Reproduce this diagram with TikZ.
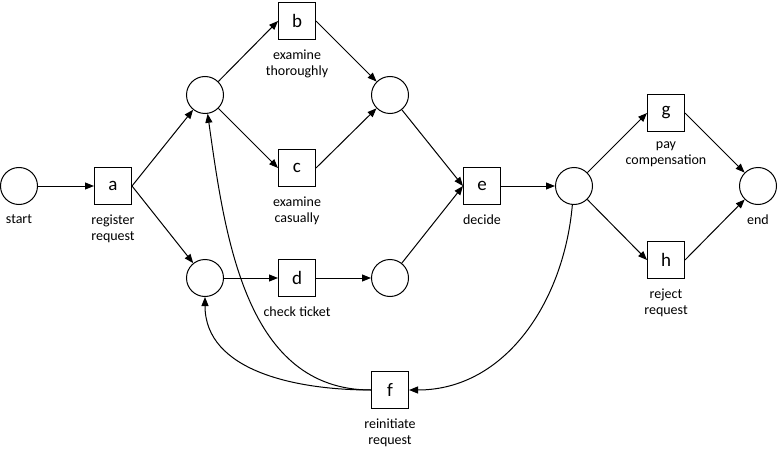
\documentclass[tikz,border=0pt]{standalone}
\usepackage{fontspec}
\setmainfont{Carlito}
\usetikzlibrary{arrows.meta}
\tikzset{
  place/.style={draw,circle,minimum size=37pt,inner sep=0pt,line width=1pt},
  trans/.style={draw,rectangle,minimum size=37pt,inner sep=0pt,line width=1pt,font=\fontsize{19}{21}\selectfont},
  lab/.style={label distance=9.5pt,inner sep=0pt,align=center,font=\fontsize{14}{16}\selectfont},
  arc/.style={-{Triangle[length=9pt,width=7pt]},line width=1pt}
}

\begin{document}
\begin{tikzpicture}[x=1pt,y=1pt]
    \useasboundingbox (0,0) rectangle (779,448);

    % places
    \node[place,label={[lab]below:start}] (start) at (19,262) {};
    \node[place] (p1) at (205,353) {};
    \node[place] (p2) at (205,170) {};
    \node[place] (p3) at (390,353) {};
    \node[place] (p4) at (390,170) {};
    \node[place] (p5) at (574,262) {};
    \node[place,label={[lab]below:end}] (end) at (758,262) {};

    % transitions
    \node[trans,label={[lab]below:register\\request}] (a) at (113,262) {a};
    \node[trans,label={[lab]below:examine\\thoroughly}] (b) at (297,427) {b};
    \node[trans,label={[lab]below:examine\\casually}] (c) at (297,280) {c};
    \node[trans,label={[lab]below:check ticket}] (d) at (297,170) {d};
    \node[trans,label={[lab]below:decide}] (e) at (482,262) {e};
    \node[trans,label={[lab]below:reinitiate\\request}] (f) at (390,58) {f};
    \node[trans,label={[lab]below:pay\\compensation}] (g) at (666,335) {g};
    \node[trans,label={[lab]below:reject\\request}] (h) at (666,188) {h};

    % arcs
    \draw[arc] (start) -- (a.west);
    \draw[arc] (a.east) -- (p1);
    \draw[arc] (a.east) -- (p2);
    \draw[arc] (p1) -- (b.west);
    \draw[arc] (p1) -- (c.west);
    \draw[arc] (b.east) -- (p3);
    \draw[arc] (c.east) -- (p3);
    \draw[arc] (p2) -- (d.west);
    \draw[arc] (d.east) -- (p4);
    \draw[arc] (p3) -- (e.west);
    \draw[arc] (p4) -- (e.west);
    \draw[arc] (e.east) -- (p5);
    \draw[arc] (p5) -- (g.west);
    \draw[arc] (p5) -- (h.west);
    \draw[arc] (g.east) -- (end);
    \draw[arc] (h.east) -- (end);

    % loop back
    \draw[arc] (p5) to[out=-95,in=0] (f.east);
    \draw[arc] (f.west) to[out=180,in=-90] (p2);
    \draw[arc] (f.west) to[out=180,in=-82] (p1);
\end{tikzpicture}
\end{document}
